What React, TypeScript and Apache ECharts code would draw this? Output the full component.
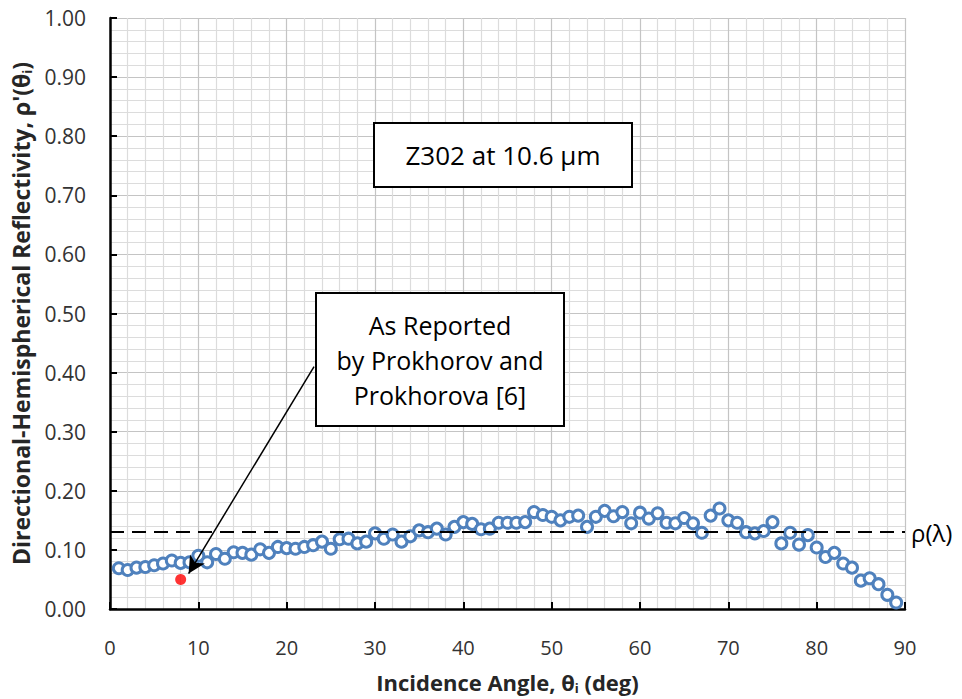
import React, { useEffect, useRef } from "react";
import * as echarts from "echarts";

const angles: number[] = [
  1, 2, 3, 4, 5, 6, 7, 8, 9, 10, 11, 12, 13, 14, 15, 16, 17, 18, 19, 20,
  21, 22, 23, 24, 25, 26, 27, 28, 29, 30, 31, 32, 33, 34, 35, 36, 37, 38, 39, 40,
  41, 42, 43, 44, 45, 46, 47, 48, 49, 50, 51, 52, 53, 54, 55, 56, 57, 58, 59, 60,
  61, 62, 63, 64, 65, 66, 67, 68, 69, 70, 71, 72, 73, 74, 75, 76, 77, 78, 79, 80,
  81, 82, 83, 84, 85, 86, 87, 88, 89,
];
const reflectivity: number[] = [
  0.069, 0.066, 0.070, 0.071, 0.074, 0.077, 0.082, 0.078, 0.079, 0.090,
  0.079, 0.093, 0.085, 0.096, 0.095, 0.092, 0.101, 0.095, 0.105, 0.103,
  0.102, 0.105, 0.108, 0.114, 0.102, 0.118, 0.119, 0.111, 0.114, 0.128,
  0.119, 0.126, 0.114, 0.123, 0.133, 0.130, 0.136, 0.126, 0.139, 0.147,
  0.144, 0.135, 0.136, 0.146, 0.146, 0.146, 0.147, 0.164, 0.159, 0.156,
  0.150, 0.156, 0.158, 0.139, 0.156, 0.166, 0.157, 0.164, 0.145, 0.163,
  0.153, 0.162, 0.146, 0.145, 0.154, 0.145, 0.129, 0.158, 0.170, 0.150,
  0.146, 0.130, 0.128, 0.132, 0.147, 0.111, 0.129, 0.109, 0.125, 0.104,
  0.088, 0.095, 0.077, 0.070, 0.048, 0.052, 0.042, 0.024, 0.011,
];
const reportedAngle: number[] = [8];
const reportedValue: number[] = [0.05];
const rhoLambda = 0.128;
const xTicks: number[] = [0, 10, 20, 30, 40, 50, 60, 70, 80, 90];
const yTicks: number[] = [0, 0.1, 0.2, 0.3, 0.4, 0.5, 0.6, 0.7, 0.8, 0.9, 1.0];
const arrowFrom: number[] = [23.1, 0.41];
const arrowTo: number[] = [8.9, 0.06];

function box(left: number, top: number, w: number, h: number, text: string, fontSize: number, lineHeight: number, font: string) {
  return {
    type: "group",
    left,
    top,
    z: 50,
    children: [
      { type: "rect", z: 50, shape: { x: 0, y: 0, width: w, height: h }, style: { fill: "#000" } },
      { type: "rect", z: 51, shape: { x: 2, y: 2, width: w - 4, height: h - 4 }, style: { fill: "#fff" } },
      {
        type: "text",
        z: 52,
        x: w / 2,
        y: h / 2,
        style: {
          text,
          fontFamily: font,
          fontSize,
          lineHeight,
          fill: "#000",
          align: "center",
          verticalAlign: "middle",
        },
      },
    ],
  };
}

export default function App() {
  const ref = useRef<HTMLDivElement>(null);
  useEffect(() => {
    if (!ref.current) return;
    const chart = echarts.init(ref.current, undefined, { renderer: "svg" });
    const font = "'Open Sans', 'DejaVu Sans', sans-serif";
    chart.setOption({
      animation: false,
      backgroundColor: "#ffffff",
      grid: { left: 110, right: 57, top: 18, bottom: 89, containLabel: false },
      xAxis: {
        type: "value",
        min: xTicks[0],
        max: xTicks[xTicks.length - 1],
        interval: 10,
        name: "{b|Incidence Angle, θ}{s|i}{b| (deg)}",
        nameLocation: "middle",
        nameGap: 60,
        nameTextStyle: {
          rich: {
            b: { fontFamily: font, fontWeight: "bold", fontSize: 22, color: "#262626" },
            s: { fontFamily: font, fontWeight: "bold", fontSize: 13, color: "#262626", padding: [12, 0, 0, 0] },
          },
        },
        axisLine: { show: true, onZero: false, lineStyle: { color: "#000", width: 2.5 } },
        axisTick: { show: true, inside: true, length: 7, lineStyle: { color: "#000", width: 2 } },
        axisLabel: { fontFamily: font, fontSize: 20, color: "#333", margin: 28 },
        splitLine: { show: true, lineStyle: { color: "#c4c4c4", width: 1.2 } },
        minorTick: { show: true, splitNumber: 5, length: 0 },
        minorSplitLine: { show: true, lineStyle: { color: "#dcdcdc", width: 1.2 } },
      },
      yAxis: {
        type: "value",
        min: yTicks[0],
        max: yTicks[yTicks.length - 1],
        interval: 0.1,
        name: "{b|Directional-Hemispherical Reflectivity, ρ'(θ}{s|i}{b|)}",
        nameLocation: "middle",
        nameGap: 70,
        nameTextStyle: {
          rich: {
            b: { fontFamily: font, fontWeight: "bold", fontSize: 23, color: "#262626" },
            s: { fontFamily: font, fontWeight: "bold", fontSize: 13, color: "#262626", padding: [12, 0, 0, 0] },
          },
        },
        axisLine: { show: true, lineStyle: { color: "#000", width: 2.5 } },
        axisTick: { show: true, inside: true, length: 7, lineStyle: { color: "#000", width: 2 } },
        axisLabel: {
          fontFamily: font,
          fontSize: 21,
          color: "#333",
          margin: 24,
          formatter: (v: number) => v.toFixed(2),
        },
        splitLine: { show: true, lineStyle: { color: "#c4c4c4", width: 1.2 } },
        minorTick: { show: true, splitNumber: 5, length: 0 },
        minorSplitLine: { show: true, lineStyle: { color: "#dcdcdc", width: 1.2 } },
      },
      series: [
        {
          type: "scatter",
          name: "Measured",
          data: angles.map((a, i) => [a, reflectivity[i]]),
          symbol: "circle",
          symbolSize: 11,
          itemStyle: { color: "#ffffff", borderColor: "#4F81BD", borderWidth: 3, opacity: 1 },
          z: 3,
          markLine: {
            silent: true,
            symbol: ["none", "none"],
            lineStyle: { color: "#000", type: [14, 8], width: 1.8 },
            label: {
              show: true,
              position: "end",
              formatter: "ρ(λ)",
              fontFamily: font,
              fontSize: 24,
              color: "#000",
              distance: 6,
            },
            data: [{ yAxis: rhoLambda }],
          },
        },
        {
          type: "scatter",
          name: "As Reported",
          data: reportedAngle.map((a, i) => [a, reportedValue[i]]),
          symbol: "circle",
          symbolSize: 11,
          itemStyle: { color: "#FF0000" },
          z: 4,
          markLine: {
            silent: true,
            symbol: ["none", "arrow"],
            symbolSize: [13, 17],
            lineStyle: { color: "#000", type: "solid", width: 1.5 },
            label: { show: false },
            data: [[{ coord: arrowFrom }, { coord: arrowTo }]],
          },
        },
      ],
      graphic: [
        box(373, 122, 260, 66, "Z302 at 10.6 µm", 26, 30, font),
        box(315, 292, 250, 135, "As Reported\nby Prokhorov and\nProkhorova [6]", 25, 35, font),
      ],
    });
    return () => chart.dispose();
  }, []);
  return <div ref={ref} style={{ width: 962, height: 699, position: "absolute", left: 0, top: 0 }} />;
}
